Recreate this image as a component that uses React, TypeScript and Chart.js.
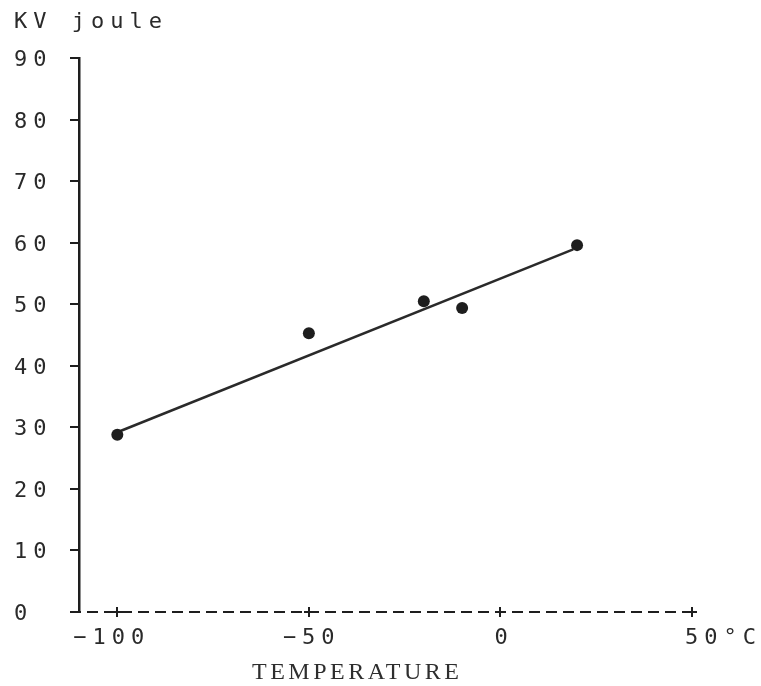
import React, { useEffect, useRef } from "react";
import { Chart, registerables } from "chart.js";

Chart.register(...registerables);

// ---- data ----
const temperatures = [-100, -50, -20, -10, 20];
const energies = [28.8, 45.3, 50.5, 49.4, 59.6];
const fitTemps = [-100, 19];
const fitEnergies = [29.2, 58.9];
const xTickValues = [-100, -50, 0, 50];
const xTickLabels = ["−100", "−50", "0", "50°C"];
const yTickValues = [0, 10, 20, 30, 40, 50, 60, 70, 80, 90];
const yTickLabels = ["0", "10", "20", "30", "40", "50", "60", "70", "80", "90"];
const yAxisTitle = "KV joule";
const xAxisTitle = "TEMPERATURE";

const INK = "#1e1e1e";
const TEXT = "#2a2a2a";

const printerPlugin = {
  id: "printerText",
  afterDraw(chart: any) {
    const ctx = chart.ctx as CanvasRenderingContext2D;
    const xs = chart.scales.x;
    const ys = chart.scales.y;
    const area = chart.chartArea;
    ctx.save();
    // dashed x axis
    ctx.strokeStyle = INK;
    ctx.lineWidth = 2;
    ctx.setLineDash([11, 6]);
    ctx.lineDashOffset = -8;
    ctx.beginPath();
    ctx.moveTo(area.left, area.bottom);
    ctx.lineTo(area.right, area.bottom);
    ctx.stroke();
    ctx.setLineDash([]);
    // "+" marks on the dashed x axis
    xs.ticks.forEach((t: any) => {
      const px = Math.round(xs.getPixelForValue(t.value));
      ctx.beginPath();
      ctx.moveTo(px, area.bottom - 5);
      ctx.lineTo(px, area.bottom + 5);
      ctx.stroke();
      ctx.beginPath();
      ctx.moveTo(px - 5, area.bottom);
      ctx.lineTo(px + 5, area.bottom);
      ctx.stroke();
    });

    ctx.fillStyle = TEXT;
    (ctx as any).letterSpacing = "6px";
    ctx.font = '22px "DejaVu Sans Mono"';
    ctx.textAlign = "left";
    ctx.textBaseline = "alphabetic";
    // y tick labels
    ys.ticks.forEach((t: any) => {
      const i = yTickValues.indexOf(t.value);
      if (i < 0) return;
      ctx.fillText(yTickLabels[i], 14, ys.getPixelForValue(t.value) + 8);
    });
    // x tick labels
    const xLabelDx = [-44, -26, -6, -7];
    xs.ticks.forEach((t: any) => {
      const i = xTickValues.indexOf(t.value);
      if (i < 0) return;
      ctx.fillText(xTickLabels[i], xs.getPixelForValue(t.value) + xLabelDx[i], 644);
    });
    // y axis title
    ctx.fillText(yAxisTitle, 14, 28);
    // x axis title
    (ctx as any).letterSpacing = "3.5px";
    ctx.font = '24px "Liberation Serif"';
    ctx.fillStyle = "#2e2e2e";
    ctx.fillText(xAxisTitle, 252, 679);
    ctx.restore();
  },
};

export default function App() {
  const ref = useRef<HTMLCanvasElement | null>(null);

  useEffect(() => {
    if (!ref.current) return;
    const chart = new Chart(ref.current, {
      type: "scatter",
      data: {
        datasets: [
          {
            label: "measurements",
            data: temperatures.map((t, i) => ({ x: t, y: energies[i] })),
            pointRadius: 6,
            pointHoverRadius: 6,
            backgroundColor: INK,
            borderColor: INK,
            borderWidth: 0,
          },
          {
            label: "fit",
            data: fitTemps.map((t, i) => ({ x: t, y: fitEnergies[i] })),
            showLine: true,
            pointRadius: 0,
            borderColor: "#2a2a2a",
            borderWidth: 2.5,
            backgroundColor: "#2a2a2a",
          },
        ],
      },
      options: {
        animation: false,
        responsive: false,
        devicePixelRatio: 1,
        layout: { padding: { top: 58, left: 79, right: 69, bottom: 74 } },
        plugins: {
          legend: { display: false },
          tooltip: { enabled: false },
          title: { display: false },
        },
        scales: {
          x: {
            type: "linear",
            min: -110,
            max: 50,
            afterBuildTicks: (s: any) => {
              s.ticks = xTickValues.map((v) => ({ value: v }));
            },
            afterFit: (s: any) => {
              s.height = 0;
            },
            ticks: { display: false },
            grid: { display: false, drawTicks: false },
            border: { display: false },
          },
          y: {
            type: "linear",
            min: 0,
            max: 90,
            afterBuildTicks: (s: any) => {
              s.ticks = yTickValues.map((v) => ({ value: v }));
            },
            afterFit: (s: any) => {
              s.width = 0;
            },
            ticks: { display: false },
            grid: {
              display: true,
              drawOnChartArea: false,
              drawTicks: true,
              tickLength: 9,
              color: INK,
              lineWidth: 2,
            },
            border: { display: true, color: INK, width: 2.5 },
          },
        },
      },
      plugins: [printerPlugin],
    });
    return () => chart.destroy();
  }, []);

  return (
    <div style={{ position: "absolute", left: 0, top: 0, width: 761, height: 686, background: "#fff" }}>
      <canvas ref={ref} width={761} height={686} style={{ display: "block" }} />
    </div>
  );
}
